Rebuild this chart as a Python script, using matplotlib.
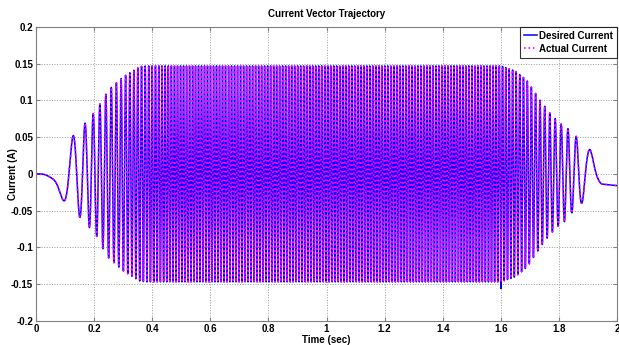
import numpy as np
import matplotlib
matplotlib.use("Agg")
import matplotlib.pyplot as plt

# values
DT = 1e-4  # sample step (sec)

# amplitude envelope of the oscillation (sec, A)
ENV_T = [0.0, 0.02, 0.094, 0.128, 0.151, 0.169, 0.184, 0.197, 0.209, 0.220,
         0.249, 0.300, 0.358, 0.380, 1.600, 1.650, 1.690, 1.735, 1.770, 1.800,
         1.830, 1.844, 1.859, 1.878, 1.907, 1.950, 2.0]
ENV_A = [0.0, 0.0, 0.036, 0.052, 0.059, 0.069, 0.073, 0.082, 0.085, 0.095,
         0.114, 0.132, 0.146, 0.147, 0.147, 0.140, 0.127, 0.100, 0.082, 0.070,
         0.062, 0.053, 0.051, 0.040, 0.033, 0.0, 0.0]

# instantaneous frequency from the spacing of the peaks (sec, Hz)
FREQ_T = [0.0, 0.06, 0.094, 0.111, 0.1395, 0.160, 0.1765, 0.1905, 0.203, 0.2145,
          0.26, 0.30, 0.35, 0.40, 0.45, 0.50, 1.53, 1.58, 1.63, 1.68, 1.73,
          1.77, 1.81, 1.822, 1.836, 1.8515, 1.8685, 1.8925, 1.93, 2.0]
FREQ_HZ = [1.0, 1.0, 10.0, 14.7, 21.7, 27.8, 33.3, 38.5, 41.7, 45.5,
           55, 65, 76, 86, 93, 97, 97, 93, 86, 76, 65,
           55, 45.5, 42, 38, 33.3, 26.3, 17.2, 5.8, 5.8]

FIRST_MIN_T = 0.094   # first trough
LAST_MAX_T = 1.907    # last crest

# single deeper trough of the desired trace
SPIKE_T = 1.600
SPIKE_A = -0.156

# slow offset at the tail (sec, A)
OFFSET_T = [0.0, 1.915, 1.950, 2.0]
OFFSET_A = [0.0, 0.0, -0.014, -0.016]

X_TICKS = [0, 0.2, 0.4, 0.6, 0.8, 1.0, 1.2, 1.4, 1.6, 1.8, 2.0]
X_LABELS = ["0", "0.2", "0.4", "0.6", "0.8", "1", "1.2", "1.4", "1.6", "1.8", "2"]
Y_TICKS = [-0.2, -0.15, -0.1, -0.05, 0, 0.05, 0.1, 0.15, 0.2]
Y_LABELS = ["-0.2", "-0.15", "-0.1", "-0.05", "0", "0.05", "0.1", "0.15", "0.2"]


def build_signal():
    t = np.arange(0, 2.0 + DT / 2, DT)
    env = np.interp(t, ENV_T, ENV_A)
    freq = np.interp(t, FREQ_T, FREQ_HZ)
    phase = 2 * np.pi * np.concatenate([[0], np.cumsum((freq[1:] + freq[:-1]) / 2 * DT)])

    i0 = np.argmin(np.abs(t - FIRST_MIN_T))
    phase += np.pi - phase[i0]
    i1 = np.argmin(np.abs(t - LAST_MAX_T))
    err = (phase[i1] + np.pi) % (2 * np.pi) - np.pi
    ramp = np.clip((t - 0.6) / 0.8, 0, 1)
    phase -= err * ramp

    sig = env * np.cos(phase) + np.interp(t, OFFSET_T, OFFSET_A)
    return t, sig


def main():
    plt.rcParams["font.family"] = ["Liberation Sans Narrow", "Liberation Sans", "DejaVu Sans"]
    plt.rcParams["font.weight"] = "bold"

    t, actual = build_signal()
    desired = actual.copy()
    win = np.where(np.abs(t - SPIKE_T) < 0.004)[0]
    k = win[np.argmin(desired[win])]
    seg = win[desired[win] < 0]
    desired[seg] = desired[seg] * SPIKE_A / desired[k]

    fig = plt.figure(figsize=(6.19, 3.45), dpi=100)
    ax = fig.add_axes([0.058, 0.070, 0.939, 0.852])

    ax.plot(t, desired, color="#0000ff", lw=1.1, label="Desired Current")
    ax.plot(t, actual, color="#ff00ff", lw=1.2, ls=":", label="Actual Current")

    ax.set_xlim(0, 2)
    ax.set_ylim(-0.2, 0.2)
    ax.set_xticks(X_TICKS)
    ax.set_xticklabels(X_LABELS)
    ax.set_yticks(Y_TICKS)
    ax.set_yticklabels(Y_LABELS)
    ax.tick_params(direction="in", length=3, labelsize=7, color="#808080",
                   top=True, right=True, pad=2)
    for sp in ax.spines.values():
        sp.set_color("#808080")
        sp.set_linewidth(0.8)
    ax.grid(True, ls=":", color="#9a9a9a", lw=0.7)

    ax.set_title("Current Vector Trajectory", fontsize=7, fontweight="bold", pad=7)
    ax.set_xlabel("Time (sec)", fontsize=7, fontweight="bold", labelpad=1)
    ax.set_ylabel("Current (A)", fontsize=7, fontweight="bold")
    ax.yaxis.set_label_coords(-0.03, 0.5)

    leg = ax.legend(loc="upper right", fontsize=7, fancybox=False, borderaxespad=0,
                    handlelength=1.4, handletextpad=0.2, borderpad=0.4,
                    labelspacing=0.3)
    leg.get_frame().set_edgecolor("black")
    leg.get_frame().set_linewidth(0.8)

    fig.savefig("out.png", dpi=100)


if __name__ == "__main__":
    main()
